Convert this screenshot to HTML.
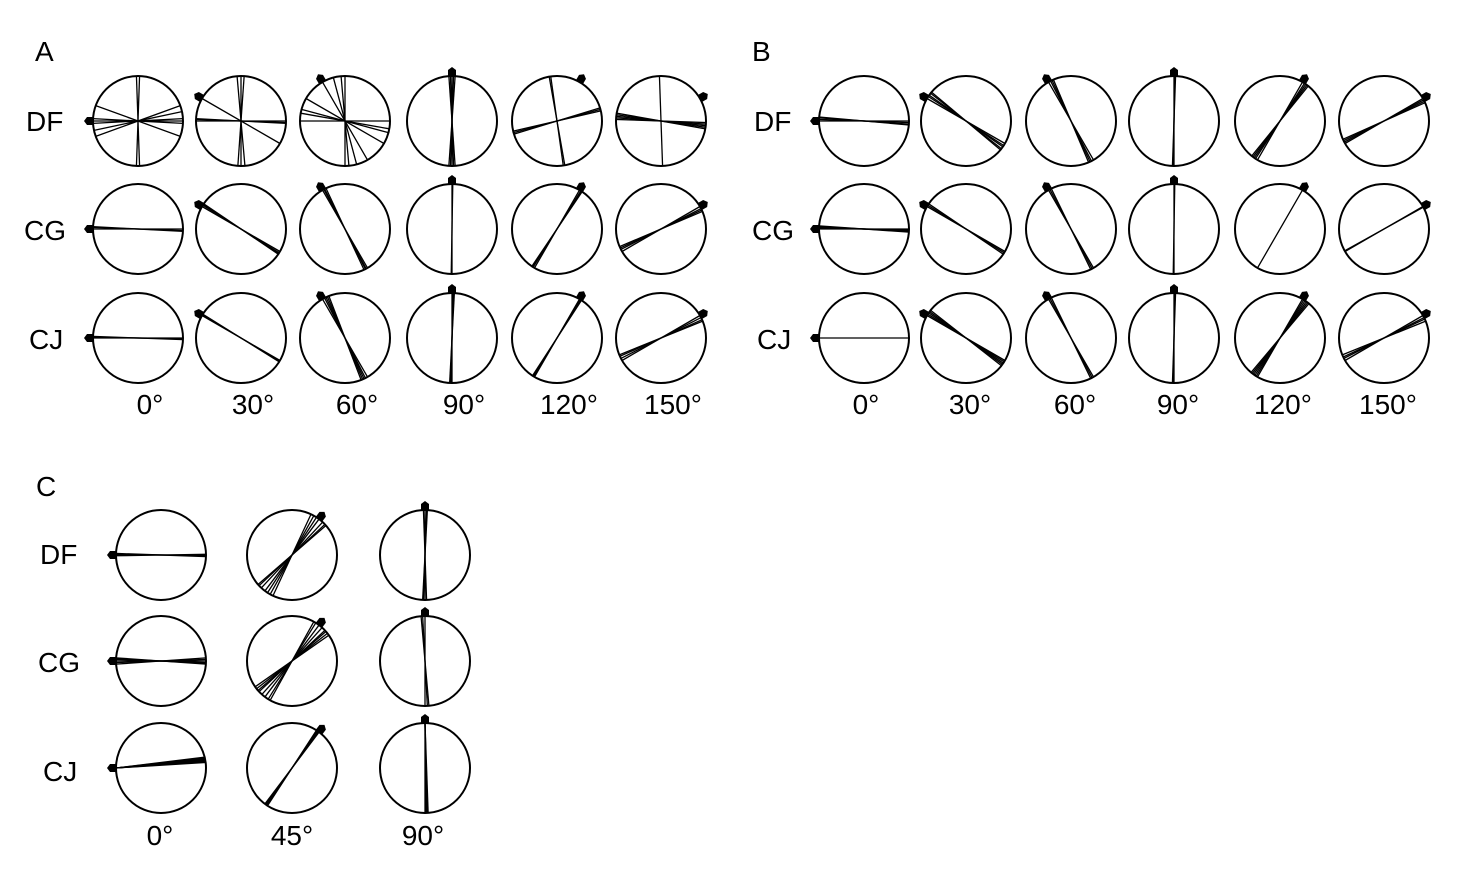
<!DOCTYPE html>
<html><head><meta charset="utf-8"><style>
html,body{margin:0;padding:0;background:#fff}
body{width:1463px;height:876px;position:relative;overflow:hidden;font-family:"Liberation Sans",Arial,sans-serif}
svg{position:absolute;left:0;top:0}
</style></head><body>
<svg id="s" width="1463" height="876" viewBox="0 0 1463 876" font-family="Liberation Sans, Arial, sans-serif" font-size="28" fill="#000">
<text x="35" y="61">A</text>
<text x="752" y="61">B</text>
<text x="36" y="496">C</text>
<text x="26" y="131">DF</text><text x="24" y="240">CG</text><text x="29" y="349">CJ</text>
<text x="754" y="131">DF</text><text x="752" y="240">CG</text><text x="757" y="349">CJ</text>
<text x="40" y="564">DF</text><text x="38" y="672">CG</text><text x="43" y="781">CJ</text>
<g text-anchor="middle">
<text x="150" y="414">0°</text><text x="253" y="414">30°</text><text x="357" y="414">60°</text><text x="464" y="414">90°</text><text x="569" y="414">120°</text><text x="673" y="414">150°</text>
<text x="866" y="414">0°</text><text x="970" y="414">30°</text><text x="1075" y="414">60°</text><text x="1178" y="414">90°</text><text x="1283" y="414">120°</text><text x="1388" y="414">150°</text>
<text x="160" y="845">0°</text><text x="292" y="845">45°</text><text x="423" y="845">90°</text>
</g>
</svg>
<script>
var s=document.getElementById('s'),NS='http://www.w3.org/2000/svg';
function el(n,a){var e=document.createElementNS(NS,n);for(var k in a)e.setAttribute(k,a[k]);s.appendChild(e);}
function pt(cx,cy,r,a){a=a*Math.PI/180;return [cx-r*Math.cos(a),cy-r*Math.sin(a)];}
function circ(cx,cy,base,lines,chord){
  var r=45;
  el('circle',{cx:cx,cy:cy,r:r,fill:'none',stroke:'#000','stroke-width':2});
  lines.forEach(function(d){
    var p,q;
    if(chord){p=pt(cx,cy,r,base);q=pt(cx,cy,r,base+180+d);}
    else{p=pt(cx,cy,r,base+d);q=pt(cx,cy,r,base+d+180);}
    el('line',{x1:p[0],y1:p[1],x2:q[0],y2:q[1],stroke:'#000','stroke-width':1.3});
  });
  var m=pt(cx,cy,r+4,base);
  el('polygon',{points:'-4,-4 2,-4 5,0 2,4 -4,4',fill:'#000',transform:'translate('+m[0]+','+m[1]+') rotate('+(base+180)+')'});
}
var AX=[138,241,345,452,557,661],BX=[864,966,1071,1174,1280,1384],RY=[121,229,338],ANG=[0,30,60,90,120,150];
var A=[
 [[0,-3,3,-12,-20,20,88,92],[0,-30,-28,-27,55,60,64],[0,-30,-60,15,25,30,-45,-50],[0,-2,2,-4,4],[43,45,47,-40,-38],[-140,-142,-144,-146,-148,-62]],
 [[0,2,3],[0,2,3,4],[0,2,3,5],[0,1],[0,2,3,4],[0,3,5,7]],
 [[0,1,2],[0,1,2],[0,3,5,7,9],[0,1,2,3],[0,1,2,3],[0,3,6,8]]
];
var B=[
 [[0,2,4,5],[0,3,5,8,10],[0,3,5,7],[0,1,2],[0,3,5,7,9],[0,2,4,6]],
 [[0,2,4,1,3],[0,2,4],[0,2,4],[0,1],[0],[0,1]],
 [[0],[0,2,4,6,8],[0,2,4],[0,1,2],[0,2,4,6,8,10],[0,3,5,8]]
];
for(var r=0;r<3;r++)for(var c=0;c<6;c++){circ(AX[c],RY[r],ANG[c],A[r][c]);circ(BX[c],RY[r],ANG[c],B[r][c]);}
var CX=[161,292,425],CY=[555,661,768];
circ(CX[0],CY[0],0,[0,1,2,-1]);circ(CX[1],CY[0],127,[0,-4,-8,6,10,12,-12]);circ(CX[2],CY[0],90,[0,2,-2,3]);
circ(CX[0],CY[1],0,[0,2,4,-2,-4,3]);circ(CX[1],CY[1],127,[0,5,10,15,-5,-8,12,18]);circ(CX[2],CY[1],90,[0,-3,-5]);
circ(CX[0],CY[2],0,[-8,-9,-10,-11,-12,-13,-14,-7],true);circ(CX[1],CY[2],127,[0,-1,-2,-3,-4]);circ(CX[2],CY[2],90,[0,-1,-2,-3,-4],true);
</script>
</body></html>
